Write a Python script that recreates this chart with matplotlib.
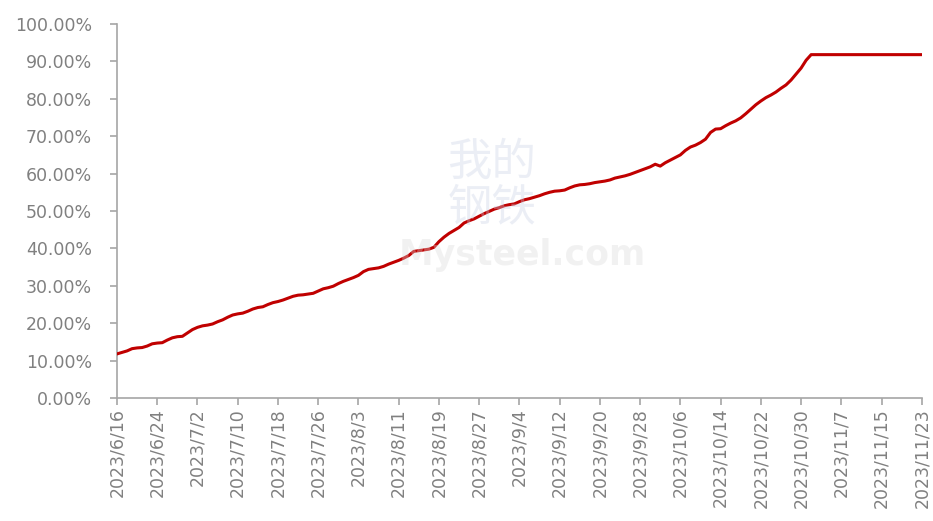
import numpy as np
import pandas as pd
import matplotlib
matplotlib.use("Agg")
import matplotlib.pyplot as plt
import matplotlib.dates as mdates
from matplotlib.ticker import FuncFormatter

# ── Data (% per day from 2023/6/16) ──────────────────────────────────────────
start_date = "2023-06-16"
end_date = "2023-11-23"

progress_pct = [
    11.8, 12.2, 12.6, 13.2, 13.4, 13.5, 13.9, 14.5, 14.7, 14.8,
    15.5, 16.1, 16.4, 16.5, 17.4, 18.3, 18.9, 19.3, 19.5, 19.8,
    20.4, 20.9, 21.6, 22.2, 22.5, 22.7, 23.2, 23.8, 24.2, 24.4,
    25.0, 25.5, 25.8, 26.2, 26.7, 27.2, 27.5, 27.6, 27.8, 28.0,
    28.6, 29.2, 29.5, 29.9, 30.6, 31.2, 31.7, 32.2, 32.8, 33.8,
    34.4, 34.6, 34.8, 35.2, 35.8, 36.3, 36.8, 37.4, 38.1, 39.2,
    39.4, 39.6, 39.8, 40.3, 41.8, 43.0, 44.0, 44.8, 45.6, 46.8,
    47.4, 47.9, 48.6, 49.3, 49.9, 50.5, 50.9, 51.4, 51.7, 51.9,
    52.5, 53.0, 53.3, 53.7, 54.1, 54.6, 55.0, 55.3, 55.4, 55.6,
    56.2, 56.7, 57.0, 57.1, 57.3, 57.6, 57.8, 58.0, 58.3, 58.8,
    59.1, 59.4, 59.8, 60.3, 60.8, 61.3, 61.8, 62.5, 62.0, 62.9,
    63.6, 64.3, 65.0, 66.2, 67.1, 67.6, 68.3, 69.2, 71.0, 71.9,
    72.0, 72.8, 73.5, 74.1, 74.9, 76.0, 77.2, 78.4, 79.4, 80.3,
    81.0, 81.8, 82.8, 83.7, 85.0, 86.6, 88.2, 90.3, 91.8, 91.8,
    91.8, 91.8, 91.8, 91.8, 91.8, 91.8, 91.8, 91.8, 91.8, 91.8,
    91.8, 91.8, 91.8, 91.8, 91.8, 91.8, 91.8, 91.8, 91.8, 91.8,
    91.8,
]

y_ticks = [0, 10, 20, 30, 40, 50, 60, 70, 80, 90, 100]

dates = pd.date_range(start_date, end_date, freq="D")
tick_dates = pd.date_range(start_date, end_date, freq="8D")

# ── Plot ─────────────────────────────────────────────────────────────────────
plt.rcParams["font.family"] = ["DejaVu Sans"]
GRAY = "#808080"
AXIS = "#a6a6a6"

fig = plt.figure(figsize=(9.33, 5.21), dpi=100)
ax = fig.add_axes([0.1254, 0.236, 0.8626, 0.718])

# faint watermark
fig.text(0.527, 0.645, "我的\n钢铁", family=["Noto Sans CJK SC", "DejaVu Sans"],
         fontsize=32, color="#c8d0e4", alpha=0.35, ha="center", va="center",
         linespacing=1.0, zorder=0)
fig.text(0.56, 0.51, "Mysteel.com", fontsize=25, fontweight="bold",
         color="#d9d9d9", alpha=0.35, ha="center", va="center", zorder=0)

ax.plot(dates, progress_pct, color="#c00000", linewidth=2.2, zorder=3)

ax.set_xlim(dates[0], dates[-1])
ax.set_ylim(0, 100)
ax.set_yticks(y_ticks)
ax.yaxis.set_major_formatter(FuncFormatter(lambda v, _: f"{v:.2f}%"))
ax.set_xticks(tick_dates)
ax.xaxis.set_major_formatter(
    FuncFormatter(lambda v, _: (lambda d: f"{d.year}/{d.month}/{d.day}")(mdates.num2date(v)))
)

for side in ("top", "right"):
    ax.spines[side].set_visible(False)
for side in ("left", "bottom"):
    ax.spines[side].set_color(AXIS)
    ax.spines[side].set_linewidth(1.2)

ax.tick_params(axis="y", colors=AXIS, labelcolor=GRAY, labelsize=12.5,
               length=5, width=1.2, direction="out", pad=13)
ax.tick_params(axis="x", colors=AXIS, labelcolor=GRAY, labelsize=12.5,
               length=5, width=1.2, direction="out", labelrotation=90, pad=2)

fig.savefig("out.png", dpi=100)
